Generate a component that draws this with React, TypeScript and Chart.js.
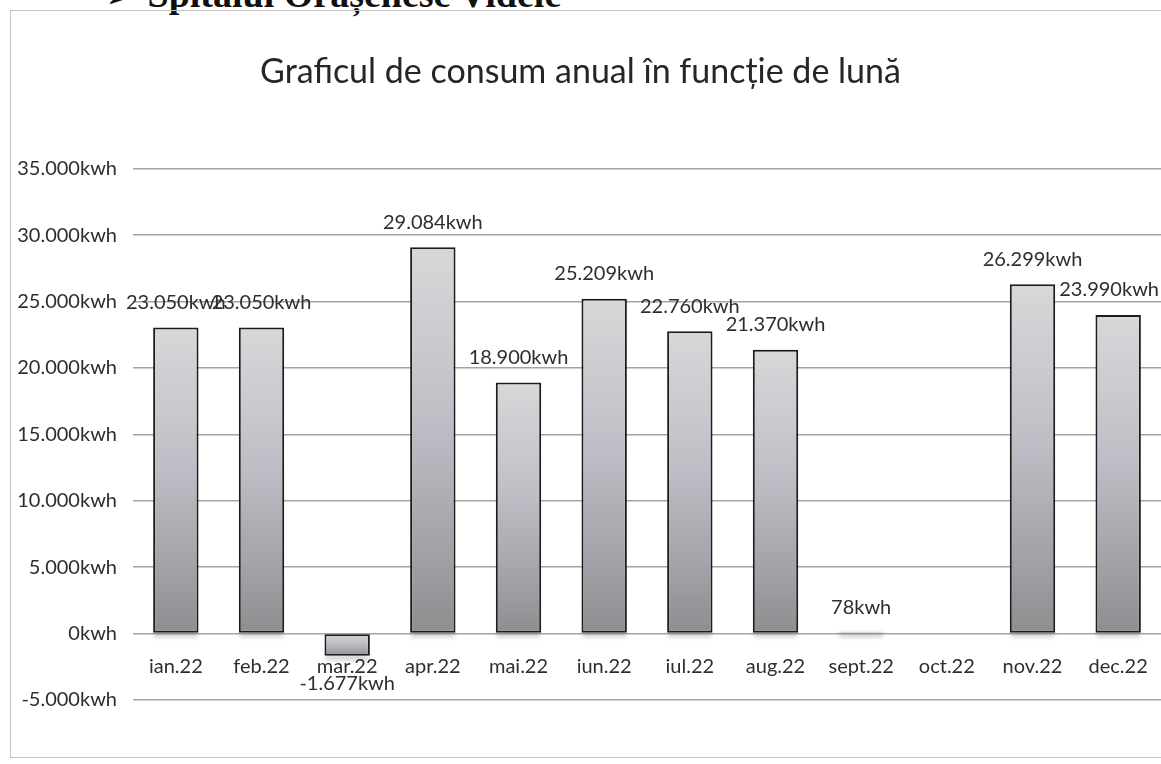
import { useEffect, useRef } from "react";
import { Chart, registerables } from "chart.js";

Chart.register(...registerables);

const categories = ["ian.22", "feb.22", "mar.22", "apr.22", "mai.22", "iun.22", "iul.22", "aug.22", "sept.22", "oct.22", "nov.22", "dec.22"];
const consumption: (number | null)[] = [23050, 23050, -1677, 29084, 18900, 25209, 22760, 21370, 78, null, 26299, 23990];
const yMin = -5000;
const yMax = 35000;
const yStep = 5000;
const chartTitle = "Graficul de consum anual în funcție de lună";
const headerText = "➢ Spitalul Orășenesc Videle";

const FONT = "Lato";

function fmt(v: number): string {
  const s = Math.abs(Math.round(v)).toString().replace(/\B(?=(\d{3})+(?!\d))/g, ".");
  return (v < 0 ? "-" : "") + s + "kwh";
}

const valueLabels = {
  id: "valueLabels",
  afterDatasetsDraw(chart: any) {
    const ctx = chart.ctx;
    const meta = chart.getDatasetMeta(0);
    ctx.save();
    ctx.font = `20px ${FONT}`;
    ctx.fillStyle = "#2e2e2e";
    ctx.textAlign = "center";
    ctx.textBaseline = "middle";
    meta.data.forEach((el: any, i: number) => {
      const v = consumption[i];
      if (v == null) return;
      const { x, y } = el.getProps(["x", "y"], true);
      const text = fmt(v);
      const half = ctx.measureText(text).width / 2;
      const cx = Math.min(x, chart.width - 2 - half);
      if (v >= 0) ctx.fillText(text, cx, y - 25);
      else ctx.fillText(text, cx, y + 28);
    });
    ctx.restore();
  },
};

const barShadow = {
  id: "barShadow",
  beforeDatasetsDraw(chart: any) {
    const ctx = chart.ctx;
    const meta = chart.getDatasetMeta(0);
    ctx.save();
    ctx.filter = "blur(2px)";
    ctx.fillStyle = "rgba(0,0,0,0.22)";
    meta.data.forEach((el: any, i: number) => {
      const v = consumption[i];
      if (v == null) return;
      const { x, y, base, width } = el.getProps(["x", "y", "base", "width"], true);
      const bottom = Math.max(y, base);
      ctx.fillRect(x - width / 2 + 1, bottom, width - 2, 4);
    });
    ctx.restore();
  },
};

function barFill(c: any) {
  const chart = c.chart;
  const v = consumption[c.dataIndex];
  const ys = chart.scales && chart.scales.y;
  if (!ys || v == null || !chart.chartArea) return "#bdbdc2";
  const p1 = ys.getPixelForValue(Math.max(v, 0));
  const p2 = ys.getPixelForValue(Math.min(v, 0));
  if (!isFinite(p1) || !isFinite(p2) || p2 - p1 < 1) return "#bdbdc2";
  const g = chart.ctx.createLinearGradient(0, p1, 0, p2);
  g.addColorStop(0, "#d8d8da");
  g.addColorStop(0.45, "#bebec6");
  g.addColorStop(0.8, "#a0a0a6");
  g.addColorStop(1, "#8e8e90");
  return g;
}

export default function App() {
  const canvasRef = useRef<HTMLCanvasElement | null>(null);

  useEffect(() => {
    if (!canvasRef.current) return;
    const chart = new Chart(canvasRef.current, {
      type: "bar",
      data: {
        labels: categories,
        datasets: [
          {
            data: consumption,
            backgroundColor: barFill,
            borderColor: "#1c1c1c",
            borderWidth: 2,
            borderSkipped: false,
            barPercentage: 0.53,
            categoryPercentage: 1,
          },
        ],
      },
      options: {
        animation: false,
        responsive: true,
        maintainAspectRatio: false,
        layout: { padding: { top: 0, bottom: 64, left: 0, right: 0 } },
        plugins: {
          legend: { display: false },
          tooltip: { enabled: false },
          title: {
            display: true,
            text: chartTitle,
            color: "#262626",
            font: { family: FONT, size: 34, weight: "normal" },
            padding: { top: 52, bottom: 76 },
          },
        },
        scales: {
          x: {
            type: "category",
            position: { y: 0 } as any,
            grid: { display: false },
            border: { display: false },
            ticks: {
              color: "#2e2e2e",
              font: { family: FONT, size: 20 },
              padding: 13,
              autoSkip: false,
              maxRotation: 0,
              minRotation: 0,
            },
          },
          y: {
            min: yMin,
            max: yMax,
            border: { display: false },
            grid: { color: "#a4a4a4", lineWidth: 1.5, drawTicks: false },
            ticks: {
              stepSize: yStep,
              color: "#2e2e2e",
              font: { family: FONT, size: 20 },
              padding: 16,
              callback: (v: any) => fmt(Number(v)),
            },
            afterFit: (s: any) => {
              s.width = 133;
            },
          },
        },
      },
      plugins: [barShadow, valueLabels],
    });
    return () => chart.destroy();
  }, []);

  return (
    <div style={{ position: "fixed", left: 0, top: 0, width: 1161, height: 764, overflow: "hidden", background: "#fff" }}>
      <div
        style={{
          position: "absolute",
          left: 106,
          top: -25,
          fontFamily: "'Liberation Serif', serif",
          fontSize: 38,
          fontWeight: "bold",
          lineHeight: "38px",
          color: "#111",
          whiteSpace: "nowrap",
        }}
      >
        {headerText}
      </div>
      <div
        style={{
          position: "absolute",
          left: 10,
          top: 10,
          width: 1200,
          height: 746,
          border: "1px solid #c4c4c4",
        }}
      />
      <div style={{ position: "absolute", left: 0, top: 0, width: 1161, height: 764 }}>
        <canvas ref={canvasRef} />
      </div>
    </div>
  );
}
